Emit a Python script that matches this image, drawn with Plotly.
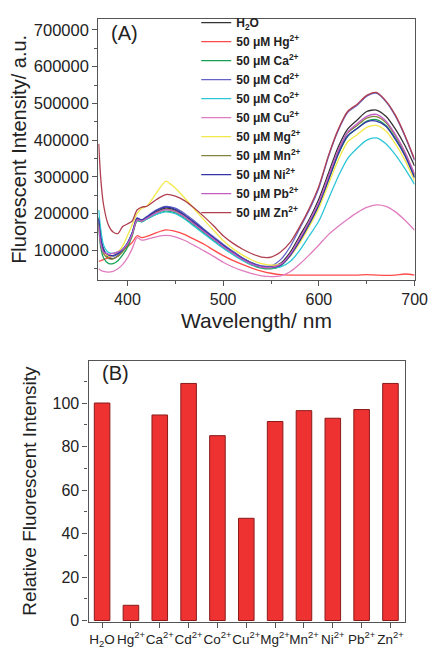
import plotly.graph_objects as go

# ---------------- Panel A data: emission spectra ----------------
wavelength = [370, 372, 375, 380, 385, 390, 395, 400, 405, 410, 415, 420, 430, 440, 450, 460,
              470, 480, 490, 500, 510, 520, 530, 540, 550, 560, 570, 580, 590, 600, 610, 620,
              630, 640, 650, 660, 670, 680, 690, 700]

h2o = [190000, 140000, 105000, 80000, 78000, 85000, 98000, 115000, 145000, 185000, 183000, 190000, 205000, 215000, 210000, 195000,
       175000, 155000, 135000, 115000, 97000, 80000, 66000, 57000, 55000, 65000, 95000, 140000, 185000, 240000, 310000, 380000,
       430000, 455000, 478000, 482000, 465000, 430000, 385000, 330000]
hg = [70000, 72000, 75000, 80000, 85000, 92000, 100000, 110000, 122000, 140000, 135000, 138000, 148000, 156000, 152000, 143000,
      130000, 117000, 101000, 86000, 73000, 62000, 52000, 44000, 38000, 34000, 33000, 33000, 33000, 33000, 33000, 33000,
      33000, 33000, 34000, 33000, 32000, 33000, 36000, 33000]
ca = [160000, 110000, 80000, 65000, 64000, 72000, 88000, 108000, 140000, 180000, 178000, 185000, 198000, 207000, 202000, 187000,
      168000, 148000, 128000, 108000, 90000, 74000, 60000, 52000, 50000, 58000, 85000, 125000, 170000, 222000, 290000, 360000,
      410000, 432000, 452000, 456000, 440000, 405000, 360000, 300000]
cd = [185000, 135000, 100000, 85000, 84000, 90000, 100000, 118000, 148000, 188000, 182000, 192000, 210000, 220000, 215000, 200000,
      180000, 158000, 137000, 117000, 98000, 80000, 66000, 58000, 58000, 75000, 110000, 160000, 210000, 270000, 355000, 425000,
      475000, 495000, 520000, 528000, 505000, 465000, 410000, 345000]
co = [210000, 160000, 115000, 95000, 92000, 96000, 104000, 120000, 148000, 182000, 178000, 185000, 198000, 205000, 200000, 185000,
      165000, 145000, 125000, 106000, 89000, 73000, 61000, 54000, 52000, 55000, 70000, 100000, 140000, 180000, 240000, 300000,
      350000, 378000, 400000, 406000, 390000, 360000, 322000, 280000]
cu = [50000, 46000, 43000, 41000, 43000, 50000, 62000, 80000, 105000, 135000, 128000, 130000, 137000, 141000, 137000, 127000,
      113000, 99000, 84000, 68000, 55000, 45000, 37000, 31000, 29000, 31000, 42000, 63000, 88000, 115000, 143000, 165000,
      185000, 203000, 217000, 224000, 220000, 205000, 182000, 155000]
mg = [170000, 125000, 95000, 85000, 86000, 95000, 112000, 140000, 170000, 200000, 215000, 220000, 255000, 288000, 270000, 242000,
      212000, 183000, 155000, 127000, 105000, 88000, 74000, 64000, 60000, 63000, 85000, 120000, 165000, 215000, 280000, 345000,
      395000, 415000, 435000, 440000, 425000, 390000, 345000, 290000]
mn = [175000, 125000, 92000, 78000, 77000, 84000, 97000, 115000, 143000, 183000, 180000, 188000, 203000, 212000, 207000, 192000,
      172000, 152000, 131000, 112000, 94000, 77000, 63000, 55000, 53000, 60000, 88000, 130000, 178000, 230000, 300000, 370000,
      420000, 440000, 460000, 464000, 448000, 412000, 365000, 305000]
ni = [185000, 135000, 100000, 88000, 86000, 92000, 102000, 120000, 148000, 188000, 183000, 190000, 208000, 218000, 212000, 196000,
      176000, 155000, 134000, 114000, 95000, 78000, 64000, 56000, 54000, 60000, 86000, 126000, 172000, 225000, 292000, 362000,
      412000, 432000, 450000, 452000, 438000, 402000, 357000, 298000]
pb = [165000, 120000, 95000, 90000, 92000, 96000, 103000, 118000, 145000, 183000, 180000, 187000, 202000, 211000, 206000, 191000,
      171000, 151000, 131000, 111000, 93000, 76000, 63000, 55000, 54000, 62000, 90000, 133000, 180000, 232000, 302000, 372000,
      422000, 445000, 465000, 470000, 452000, 415000, 368000, 308000]
zn = [390000, 300000, 225000, 170000, 150000, 146000, 165000, 172000, 180000, 210000, 218000, 220000, 238000, 252000, 248000, 235000,
      215000, 192000, 167000, 140000, 120000, 104000, 91000, 82000, 82000, 96000, 122000, 165000, 215000, 275000, 358000, 428000,
      478000, 498000, 522000, 530000, 507000, 468000, 413000, 348000]

series_names = ["H<sub>2</sub>O", "50 μM Hg<sup>2+</sup>", "50 μM Ca<sup>2+</sup>", "50 μM Cd<sup>2+</sup>",
                "50 μM Co<sup>2+</sup>", "50 μM Cu<sup>2+</sup>", "50 μM Mg<sup>2+</sup>", "50 μM Mn<sup>2+</sup>",
                "50 μM Ni<sup>2+</sup>", "50 μM Pb<sup>2+</sup>", "50 μM Zn<sup>2+</sup>"]
series_values = [h2o, hg, ca, cd, co, cu, mg, mn, ni, pb, zn]
series_colors = ["#333333", "#ff4a4a", "#16a055", "#6464c8", "#2cc6d6", "#e07cc0",
                 "#f2e84a", "#84843c", "#3434a8", "#c45cc8", "#b04050"]

# ---------------- Panel B data: relative intensity ----------------
ion_labels = ["H<sub>2</sub>O", "Hg<sup>2+</sup>", "Ca<sup>2+</sup>", "Cd<sup>2+</sup>", "Co<sup>2+</sup>",
              "Cu<sup>2+</sup>", "Mg<sup>2+</sup>", "Mn<sup>2+</sup>", "Ni<sup>2+</sup>", "Pb<sup>2+</sup>",
              "Zn<sup>2+</sup>"]
relative_intensity = [100, 7, 94.5, 109, 85, 47, 91.5, 96.5, 93, 97, 109]

FONT = "Liberation Sans, Arial, sans-serif"
AXCOL = "#555555"

fig = go.Figure()
for name, vals, col in zip(series_names, series_values, series_colors):
    fig.add_trace(go.Scatter(x=wavelength, y=vals, mode="lines", name=name,
                             line=dict(color=col, width=1.3, shape="spline", smoothing=0.7),
                             xaxis="x", yaxis="y"))

fig.add_trace(go.Bar(x=list(range(len(ion_labels))), y=relative_intensity, showlegend=False,
                     marker=dict(color="#ee3232", line=dict(color="#8a1a1a", width=1)),
                     width=0.54, xaxis="x2", yaxis="y2"))

axis_common = dict(showline=True, linecolor=AXCOL, linewidth=1.2, mirror=True, showgrid=False,
                   zeroline=False, ticks="outside", ticklen=5, tickwidth=1.2, tickcolor=AXCOL)

fig.update_layout(
    width=439, height=659,
    margin=dict(l=0, r=0, t=0, b=0),
    paper_bgcolor="white", plot_bgcolor="white",
    font=dict(family=FONT, color="#222"),
    xaxis=dict(domain=[93/439, 419/439], anchor="y", range=[369.5, 700],
               tickvals=[400, 500, 600, 700],
               tickfont=dict(family=FONT, size=16, color="#222"),
               minor=dict(tickvals=[450, 550, 650], ticks="outside", ticklen=3, tickcolor=AXCOL),
               title=dict(text="Wavelength/ nm", font=dict(family=FONT, size=21), standoff=6),
               **axis_common),
    yaxis=dict(domain=[1 - 273/659, 1 - 8/659], anchor="x", range=[20000, 730000],
               tickvals=[100000, 200000, 300000, 400000, 500000, 600000, 700000],
               ticktext=["100000", "200000", "300000", "400000", "500000", "600000", "700000"],
               tickfont=dict(family=FONT, size=16.5, color="#222"),
               minor=dict(tickvals=[50000, 150000, 250000, 350000, 450000, 550000, 650000],
                          ticks="outside", ticklen=3, tickcolor=AXCOL),
               title=dict(text="Fluorescent Intensity/ a.u.", font=dict(family=FONT, size=20), standoff=4),
               **axis_common),
    xaxis2=dict(domain=[83/439, 409/439], anchor="y2", range=[-0.47, 10.5],
                tickvals=list(range(len(ion_labels))), ticktext=ion_labels, tickangle=0,
                tickfont=dict(family=FONT, size=13.5, color="#222"),
                **axis_common),
    yaxis2=dict(domain=[1 - 620/659, 1 - 355/659], anchor="x2", range=[-0.5, 119.5],
                tickvals=[0, 20, 40, 60, 80, 100],
                tickfont=dict(family=FONT, size=16, color="#222"),
                minor=dict(tickvals=[10, 30, 50, 70, 90, 110], ticks="outside", ticklen=3, tickcolor=AXCOL),
                title=dict(text="Relative Fluorescent Intensity", font=dict(family=FONT, size=19), standoff=10),
                **axis_common),
    legend=dict(x=194/439, y=1 + 3/659, xanchor="left", yanchor="top",
                bgcolor="rgba(0,0,0,0)", borderwidth=0, tracegroupgap=0,
                font=dict(family=FONT, size=12, color="#222", weight="bold")),
    annotations=[
        dict(text="(A)", x=104/439, y=1 - 22/659, xref="paper", yref="paper", xanchor="left",
             yanchor="middle", showarrow=False, font=dict(family=FONT, size=20, color="#222")),
        dict(text="(B)", x=95/439, y=1 - 368/659, xref="paper", yref="paper", xanchor="left",
             yanchor="middle", showarrow=False, font=dict(family=FONT, size=20, color="#222")),
    ],
)

fig.write_html("out.html")
